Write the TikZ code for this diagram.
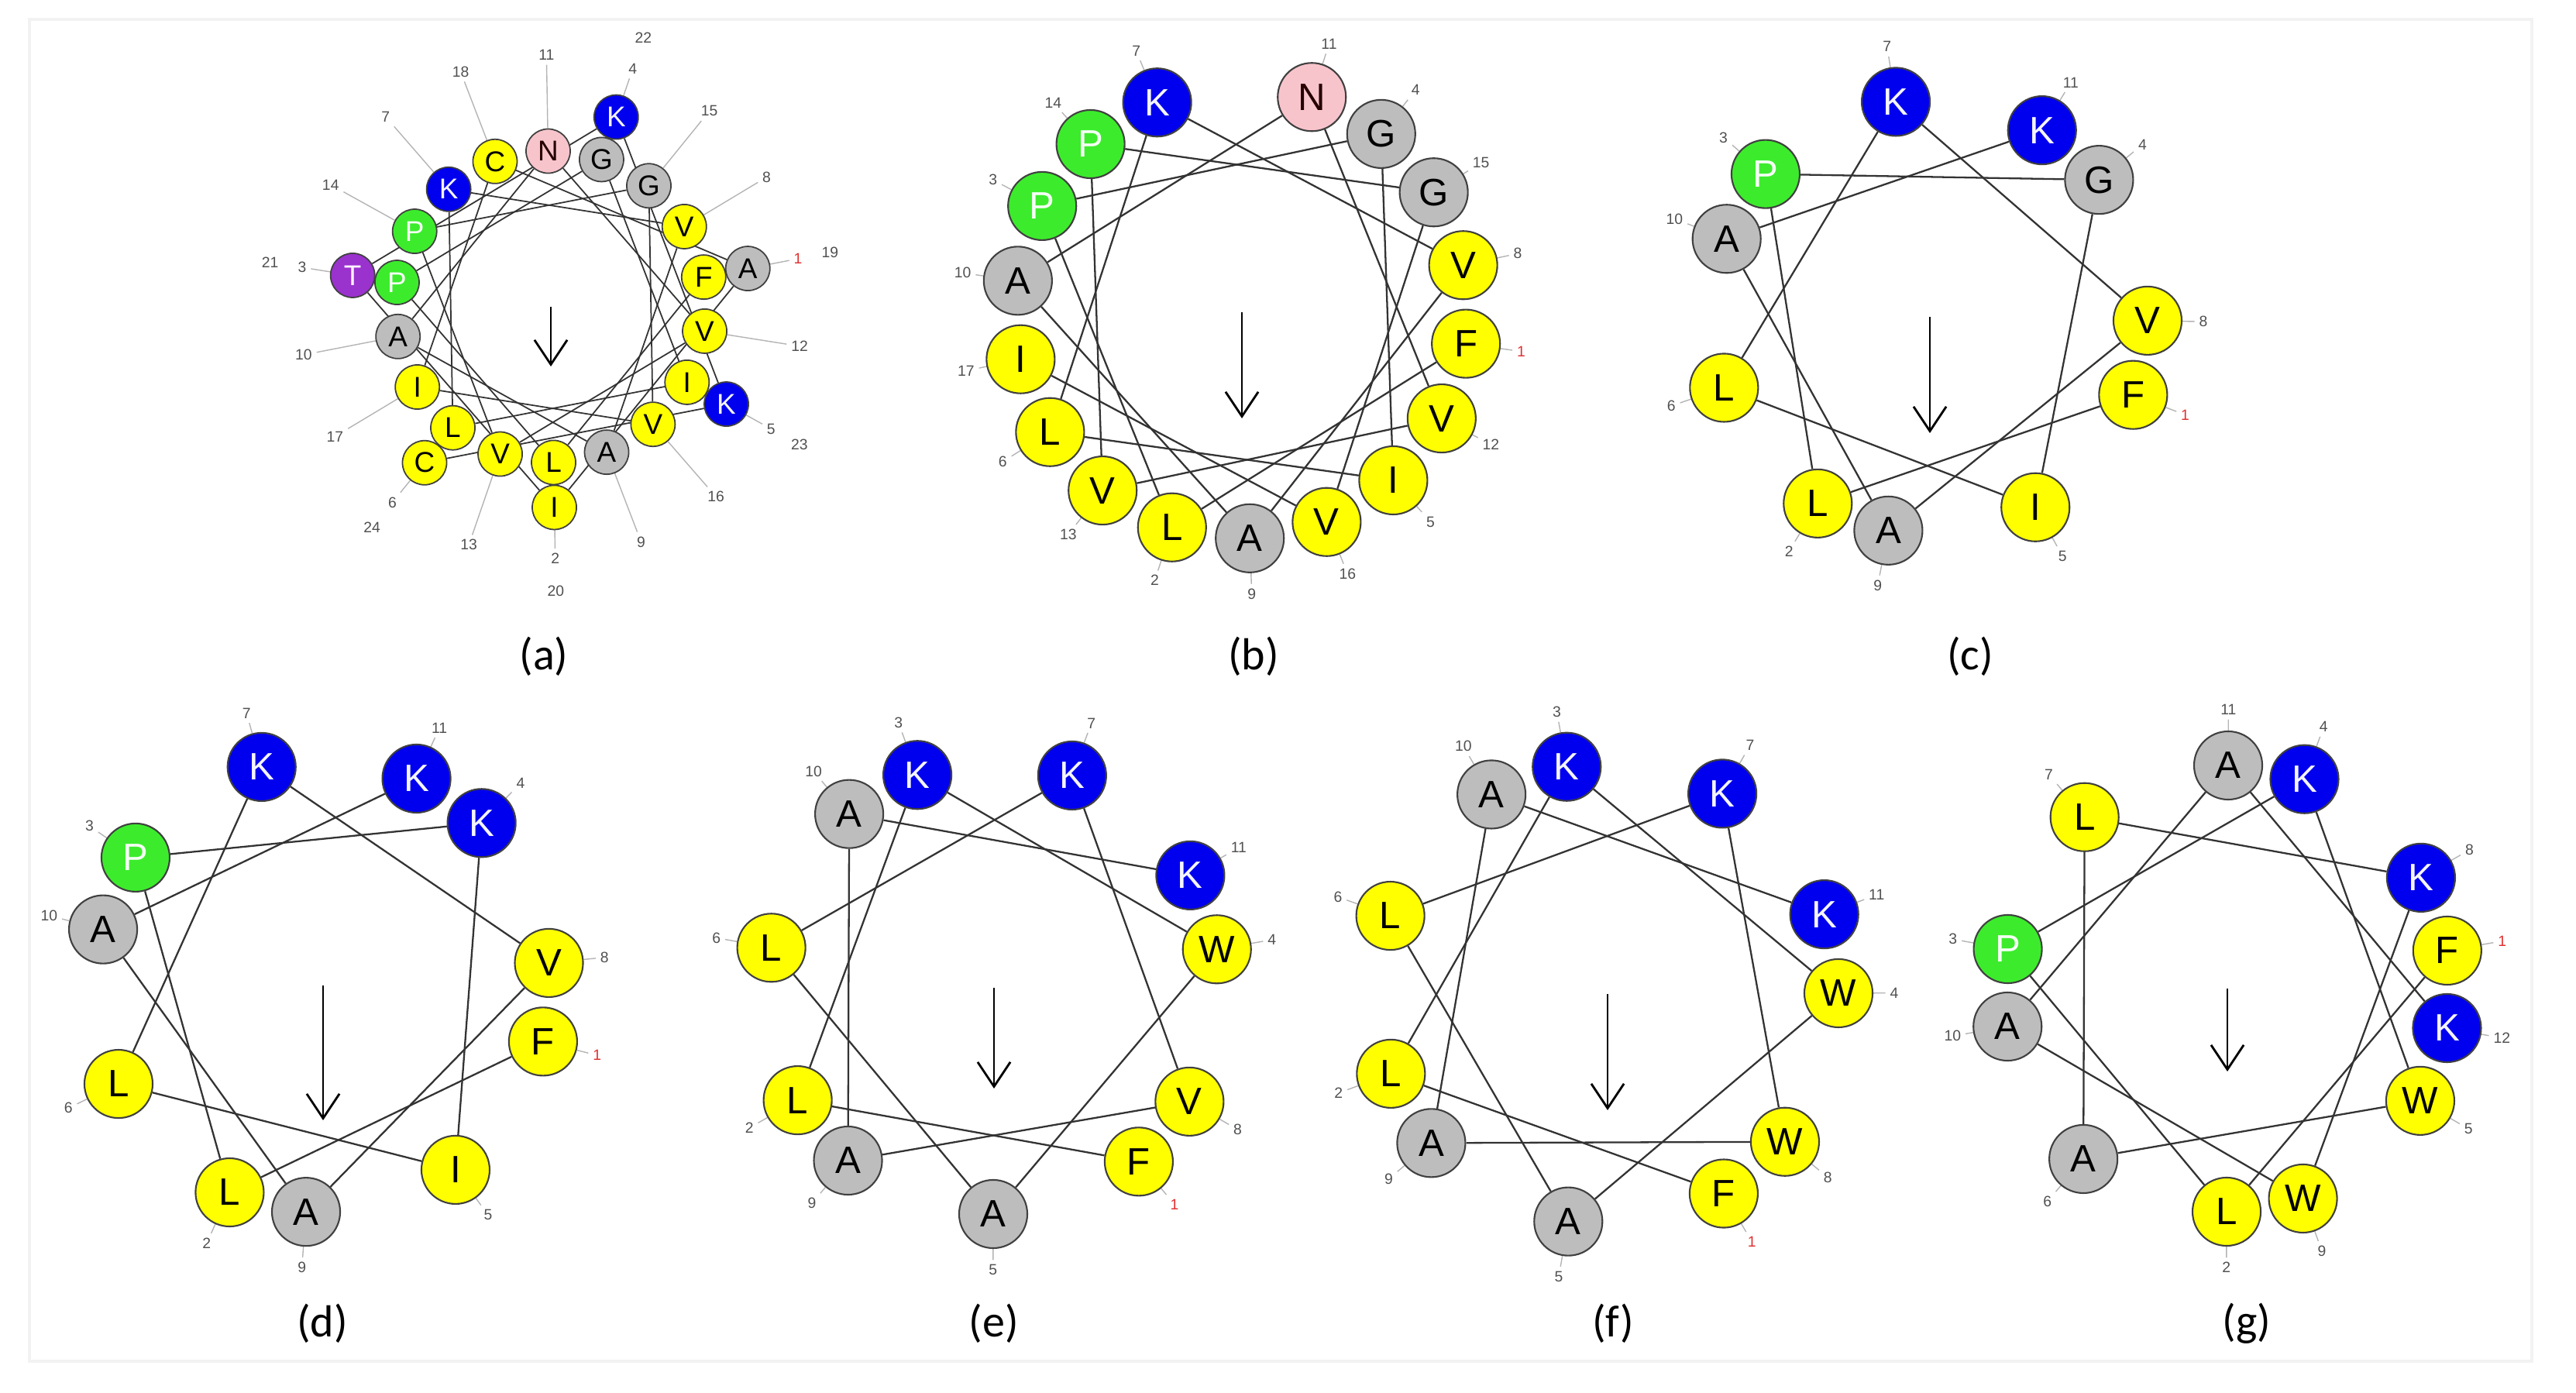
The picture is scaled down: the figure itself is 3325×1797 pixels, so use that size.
\documentclass[tikz,border=0pt]{standalone}
\usepackage{fontspec}
\setmainfont{Liberation Sans}
\newfontfamily\panelfont{Carlito}
\usetikzlibrary{calc,arrows.meta}
\pgfdeclarelayer{bg}
\pgfsetlayers{bg,main}
% residue colours
\definecolor{cyel}{HTML}{FFFF00}
\definecolor{cgry}{HTML}{BDBDBD}
\definecolor{cblu}{HTML}{0000EE}
\definecolor{cgrn}{HTML}{3CEC2C}
\definecolor{cpnk}{HTML}{F8C4CC}
\definecolor{cprp}{HTML}{9A32CE}
\colorlet{fF}{cyel}\colorlet{fL}{cyel}\colorlet{fI}{cyel}\colorlet{fV}{cyel}\colorlet{fW}{cyel}\colorlet{fC}{cyel}
\colorlet{fA}{cgry}\colorlet{fG}{cgry}
\colorlet{fK}{cblu}\colorlet{fP}{cgrn}\colorlet{fN}{cpnk}\colorlet{fT}{cprp}
\colorlet{xF}{black}\colorlet{xL}{black}\colorlet{xI}{black}\colorlet{xV}{black}\colorlet{xW}{black}\colorlet{xC}{black}
\colorlet{xA}{black}\colorlet{xG}{black}\colorlet{xN}{black!85!red}
\definecolor{xK}{HTML}{F4F4FF}\definecolor{xP}{HTML}{F4FFF4}\definecolor{xT}{HTML}{FFF4FF}
\definecolor{outl}{HTML}{404040}
\definecolor{connc}{HTML}{333333}
\definecolor{lblc}{HTML}{B4B4B4}
\definecolor{numc}{HTML}{505050}
\definecolor{numred}{HTML}{E03030}
\definecolor{framec}{HTML}{F2F2F2}
\tikzset{
  res/.style={circle, draw=outl, line width=0.6pt, inner sep=0pt, minimum size=0.88cm,
    font=\fontsize{14}{14}\selectfont},
  resa/.style={circle, draw=outl, line width=0.5pt, inner sep=0pt, minimum size=0.57cm,
    font=\fontsize{10.5}{10.5}\selectfont},
  num/.style={inner sep=1.5pt, text=numc, font=\fontsize{5.5}{5.5}\selectfont},
  conn/.style={draw=connc, line width=0.65pt},
  conna/.style={draw=connc, line width=0.5pt},
  lblline/.style={draw=lblc, line width=0.4pt},
  arr/.style={draw=black, line width=0.8pt, -{Straight Barb[length=9pt,width=12pt]}},
  plab/.style={inner sep=0pt, text=black, font=\panelfont\fontsize{16.5}{16.5}\selectfont},
}
% #1 name, #2 cx, #3 cy, #4 R, #5 theta0, #6 sequence, #7 arrow length, #8 number of residues
\newcommand{\hwheel}[8]{%
  \coordinate (#1c) at (#2,#3);
  \coordinate (#1e) at (#2,#3-#7);
  \foreach \n/\aa in {#6} {
    \pgfmathsetmacro\ang{#5-100*(\n-1)}
    \node[res, fill=f\aa, text=x\aa] (#1\n) at ($(#1c)+(\ang:#4)$) {\aa};
    \ifnum\n=1
      \node[num, text=numred] (#1l\n) at ($(#1c)+(\ang:{#4+72})$) {\n};
    \else
      \node[num] (#1l\n) at ($(#1c)+(\ang:{#4+72})$) {\n};
    \fi
  }
  \begin{pgfonlayer}{bg}
    \foreach \n in {1,...,#8} \draw[lblline] (#1\n) -- (#1l\n);
    \pgfmathtruncatemacro\last{#8-1}
    \foreach \n [evaluate=\n as \m using int(\n+1)] in {1,...,\last} \draw[conn] (#1\n) -- (#1\m);
  \end{pgfonlayer}
  \draw[arr] (#1c) -- (#1e);
}
\begin{document}
\begin{tikzpicture}[x=0.01cm, y=0.01cm]
\useasboundingbox (0,0) rectangle (3325,1797);
\draw[framec, line width=1pt] (38,40) rectangle (3268,1772);

% ---------- (a) : two rings ----------
\coordinate (ac) at (711,1401);
\coordinate (ae) at (711,1324);
\foreach \n/\aa in {1/F,2/L,3/P,4/G,5/I,6/L,7/K,8/V,9/A,10/A,11/N,12/V,13/V,14/P,15/G,16/V,17/I,18/C,19/A,20/I,21/T,22/K,23/K,24/C} {
  \pgfmathsetmacro\ang{11-100*(\n-1)}
  \pgfmathsetmacro\rr{\n>18 ? 259 : 201}
  \pgfmathsetmacro\rl{\n>18 ? 367 : 325}
  \node[resa, fill=f\aa, text=x\aa] (a\n) at ($(ac)+(\ang:\rr)$) {\aa};
  \ifnum\n=1
    \node[num, text=numred] (al\n) at ($(ac)+(\ang:\rl)$) {\n};
  \else
    \node[num] (al\n) at ($(ac)+(\ang:\rl)$) {\n};
  \fi
}
\begin{pgfonlayer}{bg}
  \foreach \n in {1,...,18} \draw[lblline] (a\n) -- (al\n);
  \foreach \n [evaluate=\n as \m using int(\n+1)] in {1,...,23} \draw[conna] (a\n) -- (a\m);
\end{pgfonlayer}
\draw[arr] (ac) -- (ae);

% ---------- (b)-(g) ----------
\hwheel{b}{1603}{1394}{292}{-8}{1/F,2/L,3/P,4/G,5/I,6/L,7/K,8/V,9/A,10/A,11/N,12/V,13/V,14/P,15/G,16/V,17/I}{137}{17}
\hwheel{c}{2491}{1388}{281}{-21}{1/F,2/L,3/P,4/G,5/I,6/L,7/K,8/V,9/A,10/A,11/K}{150}{11}
\hwheel{d}{417}{525}{293}{-14.3}{1/F,2/L,3/P,4/K,5/I,6/L,7/K,8/V,9/A,10/A,11/K}{174}{11}
\hwheel{e}{1283}{522}{292}{-50.2}{1/F,2/L,3/K,4/W,5/A,6/L,7/K,8/V,9/A,10/A,11/K}{130}{11}
\hwheel{f}{2075}{514}{298}{-59.8}{1/F,2/L,3/K,4/W,5/A,6/L,7/K,8/W,9/A,10/A,11/K}{150}{11}
\hwheel{g}{2875}{521}{288}{9.8}{1/F,2/L,3/P,4/K,5/W,6/A,7/L,8/K,9/W,10/A,11/A,12/K}{107}{12}

% ---------- panel labels ----------
\node[plab] (pa) at (702,950) {(a)};
\node[plab] (pb) at (1618,950) {(b)};
\node[plab] (pc) at (2543,950) {(c)};
\node[plab] (pd) at (416,89) {(d)};
\node[plab] (pe) at (1283,89) {(e)};
\node[plab] (pf) at (2082,89) {(f)};
\node[plab] (pg) at (2900,89) {(g)};
\end{tikzpicture}
\end{document}
